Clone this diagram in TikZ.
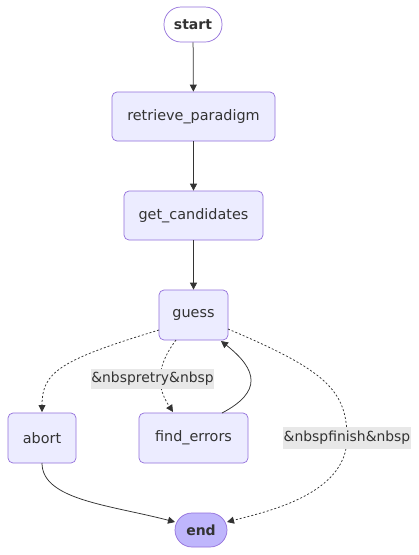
\documentclass[tikz,border=0pt]{standalone}
\usepackage{fontspec}
\setmainfont{DejaVu Sans}
\usetikzlibrary{arrows.meta}
\definecolor{nodefill}{HTML}{ECECFF}
\definecolor{nodeborder}{HTML}{9370DB}
\definecolor{endfill}{HTML}{BFB6FC}
\definecolor{edgecol}{HTML}{333333}
\definecolor{labelfill}{HTML}{E8E8E8}
\tikzset{
  box/.style={draw=nodeborder, fill=nodefill, line width=0.7pt, rounded corners=5pt,
    minimum height=49pt, inner sep=0pt, text=edgecol, font=\fontsize{14.4}{17}\selectfont},
  pill/.style={draw=nodeborder, line width=0.7pt, rounded corners=17pt,
    inner sep=0pt, text=edgecol, font=\bfseries\fontsize{14}{17}\selectfont},
  edge/.style={draw=edgecol, line width=0.75pt, -{Triangle[length=7pt,width=7pt]}},
  dotedge/.style={edge, dash pattern=on 2pt off 2pt},
  elabel/.style={fill=labelfill, inner xsep=0.5pt, inner ysep=0pt, minimum height=20pt, text=edgecol,
    font=\fontsize{13.9}{17}\selectfont}
}
\begin{document}
\begin{tikzpicture}[x=1pt,y=-1pt]
\useasboundingbox (0,0) rectangle (419,555);
\fill[white] (0,0) rectangle (419,555);
\node[pill, fill=white, minimum width=58pt, minimum height=35pt] (start) at (193,24.5) {start};
\node[box, minimum width=163pt] (retrieve) at (193.5,116.5) {retrieve\_paradigm};
\node[box, minimum width=139pt] (getc) at (193.5,215.5) {get\_candidates};
\node[box, minimum width=69pt, minimum height=50pt] (guess) at (193.5,315) {guess};
\node[box, minimum width=68pt, minimum height=50pt] (abort) at (42,438) {abort};
\node[box, minimum width=109pt, minimum height=50pt] (finderr) at (193.5,438) {find\_errors};
\node[pill, fill=endfill, minimum width=52pt, minimum height=34pt] (end) at (201,530) {end};

\coordinate (gAbort) at (159,330);
\coordinate (gFind) at (176,340);
\coordinate (gBack) at (221,341);
\coordinate (gEnd) at (228,329);
\coordinate (fTop) at (173,412);
\coordinate (fOut) at (222,413);
\coordinate (aTop) at (42,412);
\coordinate (aBot) at (42,463);
\coordinate (eL) at (175,522);
\coordinate (eR) at (227,522);

\draw[edge] (start) -- (retrieve);
\draw[edge] (retrieve) -- (getc);
\draw[edge] (getc) -- (guess);
\draw[dotedge] (gAbort) .. controls (60,360) and (42,372) .. (aTop);
\draw[dotedge] (gFind) .. controls (152,372) and (160,392) .. (fTop);
\draw[edge] (fOut) .. controls (262,392) and (258,370) .. (gBack);
\draw[dotedge] (gEnd) .. controls (325,370) and (347,390) .. (347,438)
  .. controls (347,495) and (265,512) .. (eR);
\draw[edge] (aBot) .. controls (42,500) and (110,505) .. (eL);

\node[elabel] (retry) at (152.5,378.5) {\&nbspretry\&nbsp};
\node[elabel, minimum height=22pt] (finish) at (347,438) {\&nbspfinish\&nbsp};
\end{tikzpicture}
\end{document}
